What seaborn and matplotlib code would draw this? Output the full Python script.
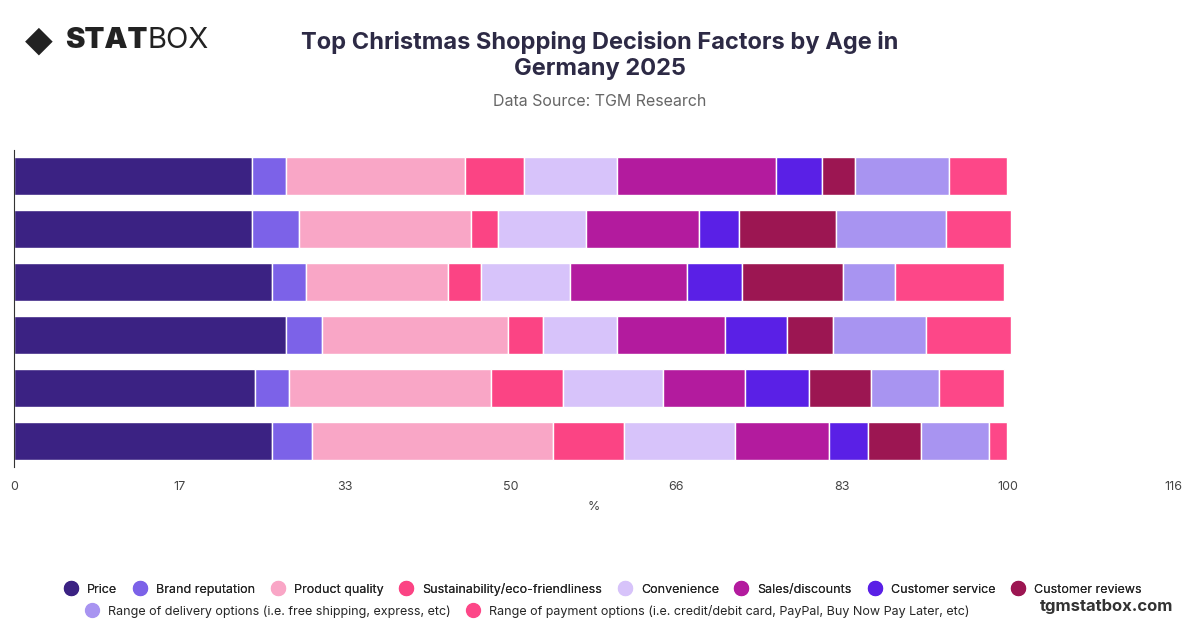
import numpy as np
import pandas as pd
import matplotlib
matplotlib.use("Agg")
import matplotlib.pyplot as plt
from matplotlib.lines import Line2D
import seaborn as sns

factors = ["Price", "Brand reputation", "Product quality", "Sustainability/eco-friendliness",
           "Convenience", "Sales/discounts", "Customer service", "Customer reviews",
           "Range of delivery options (i.e. free shipping, express, etc)",
           "Range of payment options (i.e. credit/debit card, PayPal, Buy Now Pay Later, etc)"]
colors = ["#3b2283", "#7c62e8", "#f9a6c6", "#fb4484", "#d7c3fa", "#b31b9e",
          "#5a20e6", "#9c1652", "#a894f1", "#fd4788"]

# one list per age group (top to bottom)
group1 = [24.0, 3.4, 18.0, 5.9, 9.4, 16.0, 4.6, 3.4, 9.4, 5.9]
group2 = [24.0, 4.7, 17.3, 2.7, 8.9, 11.4, 4.0, 9.7, 11.1, 6.6]
group3 = [26.0, 3.4, 14.3, 3.3, 9.0, 11.7, 5.6, 10.1, 5.3, 11.0]
group4 = [27.4, 3.6, 18.7, 3.6, 7.4, 10.9, 6.2, 4.6, 9.4, 8.6]
group5 = [24.3, 3.4, 20.3, 7.3, 10.0, 8.3, 6.4, 6.3, 6.8, 6.6]
group6 = [26.0, 4.0, 24.3, 7.1, 11.2, 9.4, 4.0, 5.3, 6.8, 1.9]
groups = [group1, group2, group3, group4, group5, group6]

tick_vals = [0, 100 / 6, 200 / 6, 50, 400 / 6, 500 / 6, 100, 700 / 6]
tick_labels = ["0", "17", "33", "50", "66", "83", "100", "116"]

sns.set_style("white")
plt.rcParams["font.family"] = ["Inter", "DejaVu Sans"]

df = pd.DataFrame(groups, columns=factors)

fig = plt.figure(figsize=(12, 6.28), dpi=100)
ax = fig.add_axes([14 / 1200, 1 - 467 / 628, (1173 - 14) / 1200, (467 - 150) / 628])

left = np.zeros(len(df))
ypos = np.arange(len(df))
for f, c in zip(factors, colors):
    ax.barh(ypos, df[f].values, left=left, color=c, height=0.72, label=f)
    left += df[f].values

ax.set_ylim(len(df) - 0.5, -0.5)
ax.set_xlim(0, 700 / 6)
ax.set_yticks([])
ax.set_xticks(tick_vals)
ax.set_xticklabels(tick_labels, fontsize=9, color="#444444")
ax.tick_params(axis="x", length=0, pad=10)
ax.set_xlabel("%", fontsize=9, color="#444444", labelpad=6)
for s in ["top", "right", "bottom"]:
    ax.spines[s].set_visible(False)
ax.spines["left"].set_color("#333333")

fig.text(0.5, 0.912, "Top Christmas Shopping Decision Factors by Age in\nGermany 2025",
         ha="center", va="center", fontsize=17, fontweight="bold", color="#2d2a45",
         linespacing=1.25)
fig.text(0.5, 0.838, "Data Source: TGM Research", ha="center", va="center",
         fontsize=11.5, color="#666666")
fig.text(0.021, 0.935, "◆", ha="left", va="center", fontsize=26, color="#222222",
         family=["DejaVu Sans"])
fig.text(0.054, 0.935, "STAT", ha="left", va="center", fontsize=21, fontweight="black",
         color="#222222")
fig.text(0.123, 0.935, "BOX", ha="left", va="center", fontsize=21, color="#222222")
fig.text(0.978, 0.034, "tgmstatbox.com", ha="right", va="center", fontsize=12,
         fontweight="bold", color="#333333")

handles = [Line2D([], [], marker="o", linestyle="", markersize=10, color=c) for c in colors]
leg1 = fig.legend(handles[:8], factors[:8], loc="center", bbox_to_anchor=(0.5, 0.062),
                  ncol=8, frameon=False, fontsize=9, handletextpad=0.3, columnspacing=0.8)
fig.legend(handles[8:], factors[8:], loc="center", bbox_to_anchor=(0.437, 0.027),
           ncol=2, frameon=False, fontsize=9, handletextpad=0.3, columnspacing=0.8)
fig.add_artist(leg1)

fig.savefig("out.png", dpi=100)
